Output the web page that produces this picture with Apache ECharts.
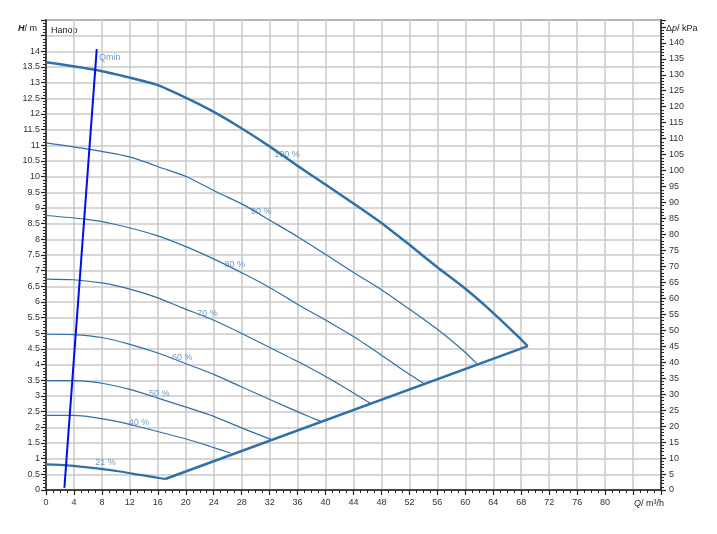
<!DOCTYPE html>
<html>
<head>
<meta charset="utf-8">
<script src="https://cdn.jsdelivr.net/npm/echarts@6/dist/echarts.min.js"></script>
<style>html,body{margin:0;padding:0;background:#fff}#c{width:717px;height:534px}</style>
</head>
<body>
<div id="c"></div>
<script>
// Flow Q (m³/h) and head H (m) for each speed curve
const q100 = [0, 7.0, 12.0, 15.9, 20.2, 24.0, 27.8, 32.1, 35.9, 40.2, 44.1, 47.9, 51.7, 56.0, 59.8, 63.7, 67.5, 68.92];
const h100 = [13.65, 13.41, 13.16, 12.93, 12.5, 12.07, 11.57, 10.95, 10.36, 9.72, 9.13, 8.54, 7.88, 7.11, 6.46, 5.71, 4.91, 4.59];
const q90 = [0, 6.3, 12.0, 16.8, 20.2, 24.5, 28.3, 32.1, 35.9, 40.7, 44.3, 47.9, 51.7, 56.0, 59.8, 61.75];
const h90 = [11.08, 10.87, 10.63, 10.26, 9.99, 9.5, 9.1, 8.6, 8.1, 7.42, 6.9, 6.41, 5.82, 5.13, 4.43, 4.01];
const q80 = [0, 5.35, 9.65, 15.9, 20.2, 24.5, 28.3, 32.1, 34.7, 36.4, 39.8, 44.1, 47.9, 50.75, 54.05];
const h80 = [8.76, 8.65, 8.49, 8.12, 7.75, 7.32, 6.9, 6.45, 6.1, 5.87, 5.45, 4.88, 4.32, 3.88, 3.4];
const q70 = [0, 3.9, 8.2, 12.0, 15.9, 19.4, 23.7, 27.8, 32.1, 36.4, 41.2, 46.45];
const h70 = [6.73, 6.71, 6.6, 6.41, 6.14, 5.82, 5.45, 5.02, 4.54, 4.06, 3.47, 2.76];
const q60 = [0, 3.9, 8.2, 12.0, 15.9, 19.7, 24.0, 27.8, 32.1, 36.4, 39.3];
const h60 = [4.97, 4.96, 4.86, 4.65, 4.38, 4.06, 3.69, 3.31, 2.88, 2.46, 2.19];
const q50 = [0, 3.9, 6.3, 8.2, 12.0, 15.9, 19.7, 24.0, 27.8, 32.36];
const h50 = [3.49, 3.49, 3.46, 3.4, 3.21, 2.94, 2.67, 2.35, 2.0, 1.6];
const q40 = [0, 3.9, 6.8, 10.1, 13.5, 16.8, 20.2, 23.5, 26.4];
const h40 = [2.38, 2.38, 2.32, 2.19, 2.01, 1.82, 1.62, 1.39, 1.18];
const q21 = [0, 2.0, 3.9, 7.3, 10.6, 13.5, 17.06];
const h21 = [0.82, 0.8, 0.77, 0.69, 0.59, 0.48, 0.35];
// Max-power limit line
const qLimit = [17.06, 68.92];
const hLimit = [0.35, 4.59];
// Qmin line
const qMin = [2.63, 7.26];
const hMin = [0.07, 14.07];
// Curve labels: [Q, H, text]
const labelQ = [34.5, 30.8, 27.0, 23.1, 19.5, 16.2, 13.3, 8.5];
const labelH = [10.71, 8.88, 7.19, 5.64, 4.23, 3.08, 2.15, 0.87];
const labelText = ['100 %', '90 %', '80 %', '70 %', '60 %', '50 %', '40 %', '21 %'];
const qminLabel = [7.6, 13.8, 'Qmin'];

const zip = (a, b) => a.map((v, i) => [v, b[i]]);
const curveColor = '#2f6faa';
const font = 'Liberation Sans, Arial, sans-serif';

function line(name, q, h, w, color) {
  return {
    name, type: 'line', data: zip(q, h), showSymbol: false, symbol: 'none',
    smooth: 0.2, lineStyle: { color: color || curveColor, width: w }, z: 3, silent: true
  };
}

const chart = echarts.init(document.getElementById('c'), null, { renderer: 'canvas' });
chart.setOption({
  animation: false,
  backgroundColor: '#fff',
  grid: { left: 46, right: 56, top: 20, bottom: 44, show: true, borderColor: '#555', borderWidth: 1.5, backgroundColor: 'transparent' },
  xAxis: {
    type: 'value', min: 0, max: 88, interval: 4,
    axisLine: { show: true, onZero: false, lineStyle: { color: '#222', width: 1.5 } },
    axisTick: { show: true, length: 5, lineStyle: { color: '#222', width: 1.2 } },
    minorTick: { show: true, splitNumber: 4, length: 3, lineStyle: { color: '#222', width: 1 } },
    axisLabel: { margin: 8, fontSize: 9, fontFamily: font, color: '#333', formatter: v => (v > 80 ? '' : String(v)) },
    splitLine: { show: true, lineStyle: { color: '#cacaca', width: 1.5 } }
  },
  yAxis: [
    {
      type: 'value', min: 0, max: 15, interval: 0.5,
      axisLine: { show: true, onZero: false, lineStyle: { color: '#222', width: 1.5 } },
      axisTick: { show: true, length: 5, lineStyle: { color: '#222', width: 1.2 } },
      minorTick: { show: true, splitNumber: 5, length: 3, lineStyle: { color: '#222', width: 1 } },
      axisLabel: { margin: 6, fontSize: 9, fontFamily: font, color: '#333', formatter: v => (v > 14 ? '' : String(v)) },
      splitLine: { show: true, lineStyle: { color: '#cacaca', width: 1.5 } }
    },
    {
      type: 'value', min: 0, max: 147.15, interval: 5, position: 'right',
      axisLine: { show: true, onZero: false, lineStyle: { color: '#222', width: 1.5 } },
      axisTick: { show: true, length: 5, lineStyle: { color: '#222', width: 1.2 } },
      minorTick: { show: true, splitNumber: 5, length: 3, lineStyle: { color: '#222', width: 1 } },
      axisLabel: { margin: 8, fontSize: 9, fontFamily: font, color: '#333', formatter: v => (v > 140 ? '' : String(v)) },
      splitLine: { show: false }
    }
  ],
  graphic: [
    { type: 'text', left: 18, top: 24, style: { text: '{i|H}/ m', font: '9px ' + font, fill: '#222', rich: { i: { fontStyle: 'italic', fontWeight: 'bold', fontSize: 9, fontFamily: font, fill: '#222' } } } },
    { type: 'text', left: 666, top: 24, style: { text: 'Δ{i|p}/ kPa', font: '9px ' + font, fill: '#222', rich: { i: { fontStyle: 'italic', fontSize: 9, fontFamily: font, fill: '#222' } } } },
    { type: 'text', left: 634, top: 499, style: { text: '{i|Q}/ m³/h', font: '9px ' + font, fill: '#222', rich: { i: { fontStyle: 'italic', fontSize: 9, fontFamily: font, fill: '#222' } } } },
    { type: 'text', left: 51, top: 26, style: { text: 'Напор', font: '9px ' + font, fill: '#222' } }
  ],
  series: [
    line('100', q100, h100, 2.5),
    line('90', q90, h90, 1.2),
    line('80', q80, h80, 1.2),
    line('70', q70, h70, 1.2),
    line('60', q60, h60, 1.2),
    line('50', q50, h50, 1.2),
    line('40', q40, h40, 1.2),
    line('21', q21, h21, 2.2),
    Object.assign(line('limit', qLimit, hLimit, 2.5), { smooth: false }),
    Object.assign(line('qmin', qMin, hMin, 2, '#0010e8'), { smooth: false, z: 4 }),
    {
      type: 'scatter', symbolSize: 0, silent: true, z: 5,
      data: labelQ.map((q, i) => [q, labelH[i], labelText[i]]),
      label: { show: true, position: 'inside', formatter: p => p.data[2], fontSize: 9, fontFamily: font, color: '#4f82bb' }
    },
    {
      type: 'scatter', symbolSize: 0, silent: true, z: 5,
      data: [qminLabel],
      label: { show: true, position: 'right', distance: 0, formatter: p => p.data[2], fontSize: 9, fontFamily: font, color: '#4f82bb' }
    }
  ]
});
</script>
</body>
</html>
